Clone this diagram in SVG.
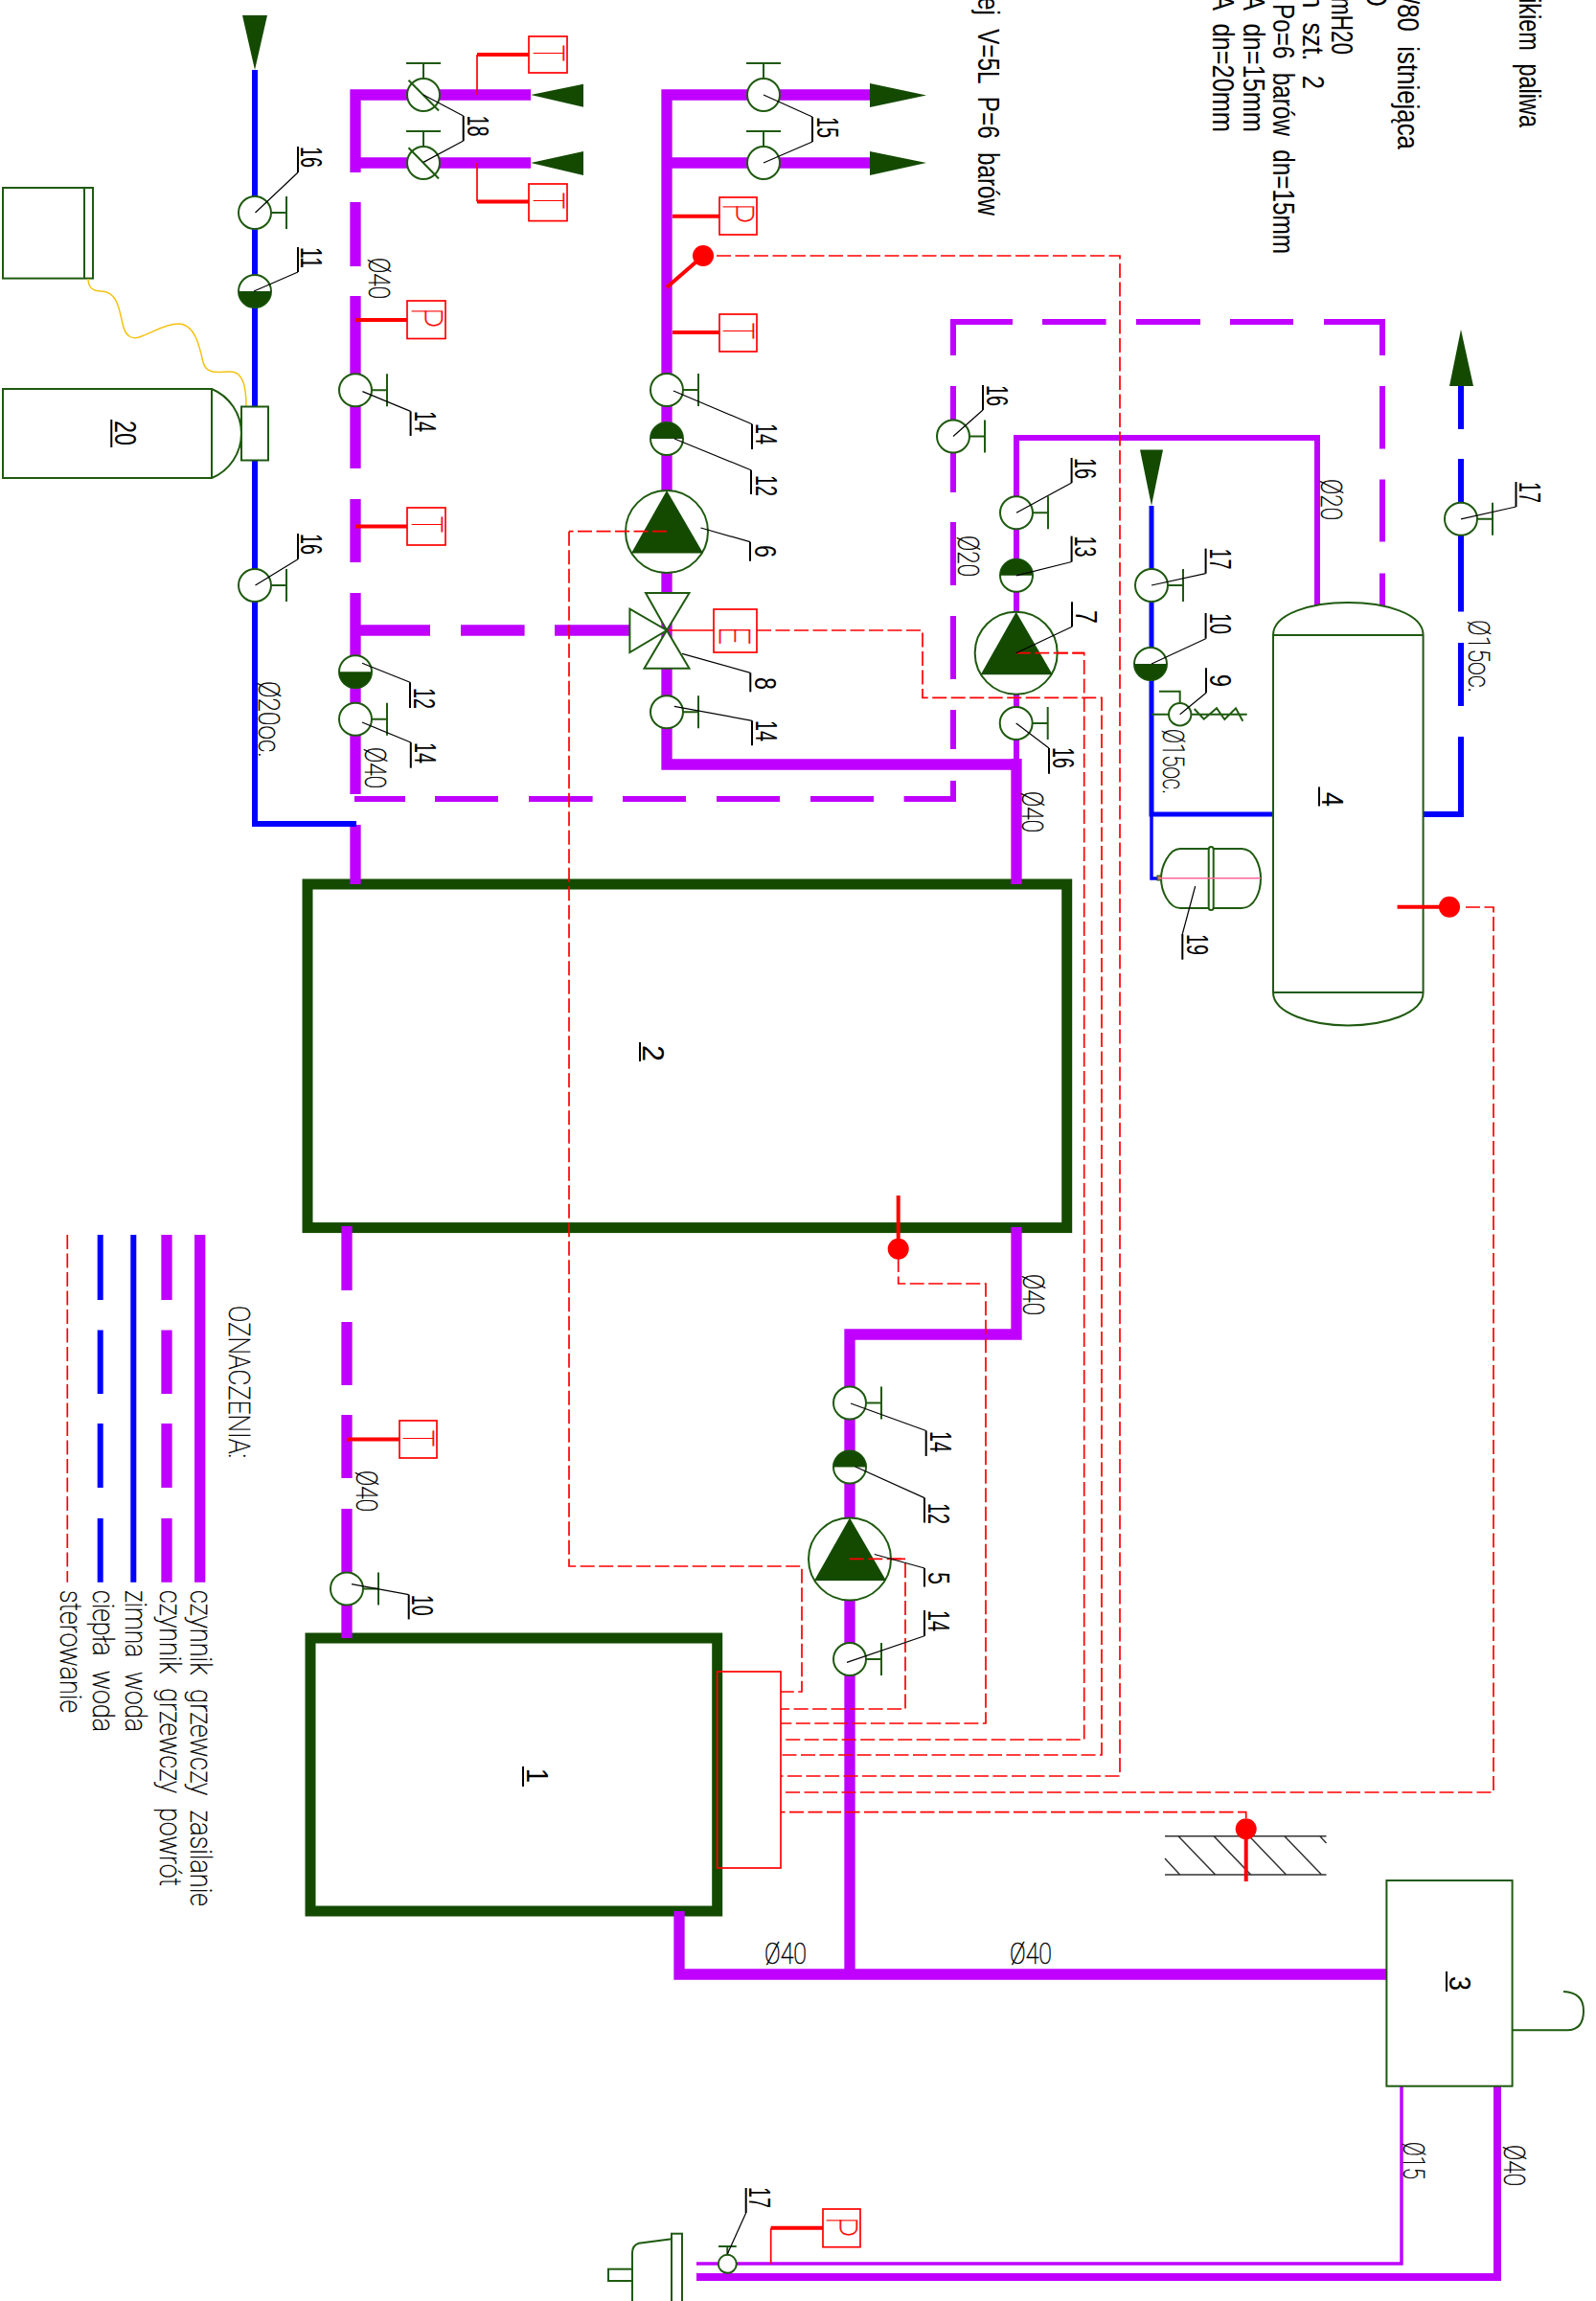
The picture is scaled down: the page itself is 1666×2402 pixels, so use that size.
<svg xmlns="http://www.w3.org/2000/svg" width="1666" height="2402" viewBox="0 0 1666 2402">
<style>
text{font-family:"Liberation Sans",Arial,sans-serif}
.n{font-size:32px;fill:#000;word-spacing:10px}
.l{font-family:"Roboto","Liberation Sans",sans-serif;font-size:31px;font-weight:100;fill:#000;stroke:#000;stroke-width:.55;word-spacing:10px}
.s{font-family:"Roboto","Liberation Sans",sans-serif;font-size:44px;font-weight:100;fill:#f00;stroke:#f00;stroke-width:.5}
.g{fill:#fff;stroke:#1f5a10;stroke-width:2}
.gn{fill:none;stroke:#1f5a10;stroke-width:2}
.f{fill:#144a00;stroke:none}
.fr{fill:none;stroke:#144a00;stroke-width:11}
.ld{fill:none;stroke:#000;stroke-width:1.2}
.ul{fill:none;stroke:#000;stroke-width:2}
.pt{fill:none;stroke:#bf00ff;stroke-width:11.3}
.pm{fill:none;stroke:#bf00ff;stroke-width:6}
.bl{fill:none;stroke:#00f;stroke-width:6}
.rd{fill:none;stroke:#f00;stroke-width:1.7;stroke-dasharray:15 4.5}
.rs{fill:none;stroke:#f00;stroke-width:4}
.rt{fill:none;stroke:#f00;stroke-width:1.7}
.bx{fill:#fff;stroke:#f00;stroke-width:1.7}
.ball{fill:#f00}
.ha{fill:none;stroke:#333;stroke-width:1.5}
</style>
<defs>
<g id="vr"><path class="gn" d="M17 0H33M33 -17V17"/><circle class="g" r="17"/></g>
<g id="vu"><path class="gn" d="M0 -17V-33M-18 -33H18"/><circle class="g" r="17"/></g>
<g id="vb"><circle class="g" r="17"/><path class="f" d="M-17 0A17 17 0 0 0 17 0Z"/></g>
<g id="vt"><circle class="g" r="17"/><path class="f" d="M-17 0A17 17 0 0 1 17 0Z"/></g>
<g id="pu"><circle class="g" r="43"/><path class="f" d="M0 -43L38 22.500H-37Z"/></g>
</defs>

<g id="frame-2"><rect class="fr" x="321" y="923" width="792.700" height="358.600"/><text class="n" transform="translate(671,1091) rotate(90)" textLength="17" lengthAdjust="spacingAndGlyphs">2</text><path class="ul" d="M668 1088V1108"/></g>
<g id="frame-1"><rect class="fr" x="324" y="1710" width="424.700" height="285"/><text class="n" transform="translate(550,1846) rotate(90)" textLength="15" lengthAdjust="spacingAndGlyphs">1</text><path class="ul" d="M546 1844V1865"/></g>

<g id="connectors">
<path class="pt" d="M365.500 99H554M371 93.500V180M371 170H554M371 211V278M371 309V489M371 521V587M371 619V829M371 861V923M371 658H449M481 658H547.600M579 658H657"/>
<path class="pt" d="M690.500 99H908M696 93.500V803.500M696 170H908M690.500 798H1066M1061 792V923"/>
<path class="pt" d="M362 1280V1347M362 1380V1446M362 1477V1543M362 1575V1710"/>
<path class="pt" d="M1061 1281V1393H887V2061M709 1995V2061H1447"/>
<path class="pm" d="M370 834H423M454 834H520M552 834H618.600M650 834H716M748 834H814M846 834H912M943.600 834H998M995 837V815M995 782V741M995 709V643M995 611V545M995 514V403M995 371V333M992 336H1057M1088 336H1154.600M1186 336H1253M1284 336H1350M1382 336H1446M1443 333V371M1443 403V468.500M1443 500.600V565.600M1443 598.600V633"/>
<path class="pm" d="M1061 792V457H1375V632"/>
<path class="pm" style="stroke-width:3.500" d="M1463 2177V2363H727"/>
<path class="pm" style="stroke-width:8" d="M1563 2177V2377H727"/>
<path class="bl" d="M266 73V860H372"/>
<path class="bl" d="M1525 403V448M1525 479V638.500M1525 671V737M1525 769V850H1485"/>
<path class="bl" style="stroke-width:5" d="M1202 528V850H1329"/>
<path class="bl" style="stroke-width:3.500" d="M1202 850V917H1209"/>
<path class="rd" d="M748 267H1169V1854H815"/>
<path class="rd" d="M594 554.700V1635H837V1766H815"/>
<path class="rd" d="M790 658H963V728.300H1150V1832H815"/>
<path class="rd" d="M1100 681.700H1131.700V1816H815"/>
<path class="rd" d="M1530 947H1559V1871H815"/>
<path class="rd" d="M1300.700 1898V1891.700H815"/>
<path class="rd" d="M937.700 1313V1340H1029V1799H815"/>
<path class="rd" d="M930 1627.400H945V1784H815"/>
<path class="rs" d="M702 225.700H751M702 347H751M696 300L734 267"/>
<path class="rs" d="M552 57H498M552 210.600H498M371 334H425M371 549.400H425M362 1502.400H417M804.700 2325.700H859"/>
<path class="rt" d="M498 57V99M498 210.600V170M804.700 2325.700V2363M696 658H745"/>
</g>

<g id="arrow-a"><path class="f" d="M253 16H279L266 73Z"/></g>
<g id="arrow-b"><path class="f" d="M554 99L609 87.700V111.800Z"/></g>
<g id="arrow-c"><path class="f" d="M554 170L609 158V183Z"/></g>
<g id="arrow-d"><path class="f" d="M908 87L967 99.500L908 112Z"/></g>
<g id="arrow-e"><path class="f" d="M908 158L967 170L908 183Z"/></g>
<g id="arrow-f"><path class="f" d="M1525 344L1538 403H1513Z"/></g>
<g id="arrow-g"><path class="f" d="M1190 469.400H1214L1202 528Z"/></g>

<g id="box-top"><rect class="gn" x="3" y="196" width="94" height="94.600"/><path class="gn" d="M88 196V290.600"/></g>
<path id="hose" fill="none" stroke="#f5c211" stroke-width="1.500" d="M92 291C92 303 100 304 106 304C122 305 124 320 128 338C131 352 138 354 145 352C160 347 172 338 186 338C203 338 208 360 212 378C215 390 225 389 240 388C254 387 257 405 257 424"/>
<g id="node-20"><path class="g" d="M3 406H221A50.400 50.400 0 0 1 221 499H3Z"/><path class="gn" d="M221 406V499"/><rect class="g" x="252" y="424.500" width="28" height="56"/><text class="n" transform="translate(120,439) rotate(90)" textLength="26" lengthAdjust="spacingAndGlyphs">20</text><path class="ul" d="M116.300 438V467"/></g>

<g id="v16a"><use href="#vr" x="266" y="222"/><polyline class="ld" points="266.500,222 311,180"/><path class="ul" d="M311 180V153"/><text class="n" transform="translate(314,153) rotate(90)" textLength="22" lengthAdjust="spacingAndGlyphs">16</text></g>
<g id="v11"><use href="#vb" x="266" y="304"/><polyline class="ld" points="265,304 311,284"/><path class="ul" d="M311 284V258"/><text class="n" transform="translate(314,258) rotate(90)" textLength="22" lengthAdjust="spacingAndGlyphs">11</text></g>
<g id="v16b"><use href="#vr" x="266" y="611"/><polyline class="ld" points="266.500,611 311,583.700"/><path class="ul" d="M311 583.700V557"/><text class="n" transform="translate(314,557) rotate(90)" textLength="22" lengthAdjust="spacingAndGlyphs">16</text></g>

<g id="v18"><use href="#vu" x="442" y="99"/><use href="#vu" x="442" y="170"/><path class="gn" d="M426.500 83.700L458 115.500M426.500 154.300L458 186.500"/><polyline class="ld" points="442,99 483.700,121"/><polyline class="ld" points="483.700,147 442,169.400"/><path class="ul" d="M483.700 121V147"/><text class="n" transform="translate(488,120.500) rotate(90)" textLength="22" lengthAdjust="spacingAndGlyphs">18</text></g>
<g id="v15"><use href="#vu" x="797" y="99"/><use href="#vu" x="797" y="170"/><polyline class="ld" points="797,99 848,122"/><polyline class="ld" points="848,148 797,170"/><path class="ul" d="M848 122V148"/><text class="n" transform="translate(853,122) rotate(90)" textLength="22" lengthAdjust="spacingAndGlyphs">15</text></g>
<g id="v14a"><use href="#vr" x="371" y="407.300"/><polyline class="ld" points="378.400,408.600 428.600,429.400"/><path class="ul" d="M428.600 429.400V455"/><text class="n" transform="translate(433,429) rotate(90)" textLength="22" lengthAdjust="spacingAndGlyphs">14</text></g>
<g id="v12a"><use href="#vb" x="371" y="701.300"/><polyline class="ld" points="378,692.300 428,712.300"/><path class="ul" d="M428 712.300V739"/><text class="n" transform="translate(432,718) rotate(90)" textLength="22" lengthAdjust="spacingAndGlyphs">12</text></g>
<g id="v14b"><use href="#vr" x="371" y="750.700"/><polyline class="ld" points="378,754 428.800,775"/><path class="ul" d="M428.800 775V801.700"/><text class="n" transform="translate(433,775) rotate(90)" textLength="22" lengthAdjust="spacingAndGlyphs">14</text></g>
<g id="v14c"><use href="#vr" x="696" y="407"/><polyline class="ld" points="703,408 785,442.700"/><path class="ul" d="M785 442.700V469"/><text class="n" transform="translate(789,442) rotate(90)" textLength="22" lengthAdjust="spacingAndGlyphs">14</text></g>
<g id="v12b"><use href="#vt" x="696" y="458"/><polyline class="ld" points="704,458 784,490.700"/><path class="ul" d="M784 490.700V516"/><text class="n" transform="translate(789,496) rotate(90)" textLength="22" lengthAdjust="spacingAndGlyphs">12</text></g>
<g id="pump-6"><use href="#pu" x="696" y="555"/><path class="rd" d="M696 554.700H594"/><polyline class="ld" points="731.500,551 783,565.700"/><path class="ul" d="M783 565.700V585.700"/><text class="n" transform="translate(788,569) rotate(90)" textLength="13" lengthAdjust="spacingAndGlyphs">6</text></g>
<g id="valve-8"><path class="g" d="M657.400 635.700L696 658L657.400 681Z"/><path class="g" d="M674 619H719.500L696 658Z"/><path class="g" d="M696 658L719.500 697.700H672.500Z"/><polyline class="ld" points="712,682.300 783.300,702.300"/><path class="ul" d="M783.300 702.300V722.300"/><text class="n" transform="translate(788,707) rotate(90)" textLength="13" lengthAdjust="spacingAndGlyphs">8</text></g>
<g id="v14d"><use href="#vr" x="696" y="743.300"/><polyline class="ld" points="703.800,737.300 785,752.300"/><path class="ul" d="M785 752.300V778.300"/><text class="n" transform="translate(789,752) rotate(90)" textLength="22" lengthAdjust="spacingAndGlyphs">14</text></g>

<g id="v16c"><use href="#vr" x="995" y="455.500"/><polyline class="ld" points="995,455.500 1026,428"/><path class="ul" d="M1026 428V402"/><text class="n" transform="translate(1030,402) rotate(90)" textLength="22" lengthAdjust="spacingAndGlyphs">16</text></g>
<g id="v16d"><use href="#vr" x="1061" y="535.300"/><polyline class="ld" points="1061,535.300 1118.600,504"/><path class="ul" d="M1118.600 504V478"/><text class="n" transform="translate(1122,478) rotate(90)" textLength="22" lengthAdjust="spacingAndGlyphs">16</text></g>
<g id="v13"><use href="#vt" x="1061" y="600.800"/><polyline class="ld" points="1061,600.800 1118.600,586.500"/><path class="ul" d="M1118.600 586.500V559.600"/><text class="n" transform="translate(1122,559.600) rotate(90)" textLength="22" lengthAdjust="spacingAndGlyphs">13</text></g>
<g id="pump-7"><use href="#pu" x="1060.700" y="681.700"/><path class="rd" d="M1060.700 681.700H1131.700"/><polyline class="ld" points="1060.700,681.700 1119,654.300"/><path class="ul" d="M1119 654.300V628.300"/><text class="n" transform="translate(1123,637) rotate(90)" textLength="14" lengthAdjust="spacingAndGlyphs">7</text></g>
<g id="v16e"><use href="#vr" x="1060.700" y="755"/><polyline class="ld" points="1060.700,755 1095,781"/><path class="ul" d="M1095 781V807.700"/><text class="n" transform="translate(1099,780) rotate(90)" textLength="22" lengthAdjust="spacingAndGlyphs">16</text></g>

<g id="v17a"><use href="#vr" x="1202" y="611"/><polyline class="ld" points="1202,611 1258.600,598.600"/><path class="ul" d="M1258.600 598.600V572.600"/><text class="n" transform="translate(1263,572.600) rotate(90)" textLength="22" lengthAdjust="spacingAndGlyphs">17</text></g>
<g id="v10a"><use href="#vb" x="1201" y="693"/><polyline class="ld" points="1202,693 1258.600,666.700"/><path class="ul" d="M1258.600 666.700V640"/><text class="n" transform="translate(1263,640) rotate(90)" textLength="22" lengthAdjust="spacingAndGlyphs">10</text></g>
<g id="v9"><path class="gn" d="M1202 745.700H1301.700M1231.700 733.300V721.700H1210M1246.700 740L1256.700 750.700L1270 739.300L1278.300 751L1290 739.300L1297.300 752.700"/><circle class="g" cx="1231.700" cy="745.700" r="11.700"/><polyline class="ld" points="1231.700,745.700 1259,723.300"/><path class="ul" d="M1259 723.300V697.300"/><text class="n" transform="translate(1263,704) rotate(90)" textLength="13" lengthAdjust="spacingAndGlyphs">9</text></g>
<g id="vessel-19"><path class="g" d="M1232 886H1296C1310 886 1316 905 1316 917C1316 930 1310 948 1296 948H1232C1220 948 1212 930 1212 917C1212 905 1220 886 1232 886Z"/><rect class="g" x="1261.700" y="884" width="5" height="66" rx="2.500"/><rect x="1208" y="914" width="4" height="5" fill="#bf8040" stroke="#1f5a10"/><path fill="none" stroke="#ff6699" stroke-width="1.500" d="M1209 916.700H1316"/><polyline class="ld" points="1247.700,925 1234.300,975"/><path class="ul" d="M1234.300 975V1001.700"/><text class="n" transform="translate(1239,975) rotate(90)" textLength="22" lengthAdjust="spacingAndGlyphs">19</text></g>
<g id="tank-4"><path class="g" d="M1329 663C1329 640 1370 629 1407 629C1445 629 1485.600 640 1485.600 663V1036C1485.600 1058 1445 1070.400 1407 1070.400C1370 1070.400 1329 1058 1329 1036Z"/><path class="gn" d="M1329 663H1485.600M1329 1036H1485.600"/><text class="n" transform="translate(1380,827) rotate(90)" textLength="15" lengthAdjust="spacingAndGlyphs">4</text><path class="ul" d="M1377 821.500V841.500"/></g>
<g id="sensor-tank"><path class="rs" d="M1458.600 946.800H1513"/><circle class="ball" cx="1513" cy="946.800" r="11"/></g>
<g id="v17b"><use href="#vr" x="1525" y="541.800"/><polyline class="ld" points="1525,541.800 1582.500,529"/><path class="ul" d="M1582.500 529V503"/><text class="n" transform="translate(1586,503) rotate(90)" textLength="22" lengthAdjust="spacingAndGlyphs">17</text></g>

<g id="v14e"><use href="#vr" x="887" y="1464.500"/><polyline class="ld" points="888,1465 966.700,1493.500"/><path class="ul" d="M966.700 1493.500V1520"/><text class="n" transform="translate(971,1494) rotate(90)" textLength="22" lengthAdjust="spacingAndGlyphs">14</text></g>
<g id="v12c"><use href="#vt" x="887" y="1531.400"/><polyline class="ld" points="892.700,1531 965,1563.600"/><path class="ul" d="M965 1563.600V1589.500"/><text class="n" transform="translate(969,1569) rotate(90)" textLength="22" lengthAdjust="spacingAndGlyphs">12</text></g>
<g id="pump-5"><use href="#pu" x="887" y="1627.500"/><path class="rd" d="M886.700 1627.400H945"/><polyline class="ld" points="912.700,1622.500 965,1637"/><path class="ul" d="M965 1637V1656.400"/><text class="n" transform="translate(969,1641) rotate(90)" textLength="13" lengthAdjust="spacingAndGlyphs">5</text></g>
<g id="v14f"><use href="#vr" x="887" y="1732"/><polyline class="ld" points="884,1735.400 965,1707.800"/><path class="ul" d="M965 1707.800V1681"/><text class="n" transform="translate(969,1681) rotate(90)" textLength="22" lengthAdjust="spacingAndGlyphs">14</text></g>
<g id="v10b"><use href="#vr" x="362" y="1658.400"/><polyline class="ld" points="367,1653.600 426.700,1664.700"/><path class="ul" d="M426.700 1664.700V1690.400"/><text class="n" transform="translate(430,1664.700) rotate(90)" textLength="22" lengthAdjust="spacingAndGlyphs">10</text></g>

<g id="controller"><rect class="rt" x="748.700" y="1745" width="66.300" height="205"/></g>
<g id="sensor-frame"><path class="rs" d="M937.700 1248V1303"/><circle class="ball" cx="937.700" cy="1303.700" r="11"/></g>
<g id="sensor-wall"><path class="ha" d="M1216 1916.700H1384.500M1216 1957H1384.500M1230 1916.700L1268.700 1957M1267 1916.700L1305.700 1957M1304 1916.700L1342.600 1957M1340.800 1916.700L1379.600 1957M1377.800 1916.700L1384.500 1924M1216 1940L1231.700 1957"/><path class="rs" d="M1300.700 1909V1964"/><circle class="ball" cx="1300.700" cy="1909.300" r="11"/></g>
<g id="sensor-pipe"><circle class="ball" cx="734" cy="267" r="11"/></g>

<g id="tank-3"><rect class="g" x="1447.400" y="1963" width="131.200" height="214.700"/><path class="gn" d="M1578.600 2119.300H1636Q1653 2119 1653 2099Q1653 2080 1632 2079"/><text class="n" transform="translate(1513,2063) rotate(90)" textLength="15" lengthAdjust="spacingAndGlyphs">3</text><path class="ul" d="M1510 2058V2079"/></g>
<g id="v17c"><path class="gn" d="M759.300 2354V2345M750 2345H768.700"/><circle class="g" cx="759.300" cy="2363.300" r="9.500"/><polyline class="ld" points="759.300,2353 778.700,2310"/><path class="ul" d="M778.700 2310V2284"/><text class="n" transform="translate(782,2283) rotate(90)" textLength="22" lengthAdjust="spacingAndGlyphs">17</text></g>
<g id="burner"><path class="gn" d="M701 2337.300L666.700 2341.700Q660 2344 660 2352V2402"/><rect class="g" x="701" y="2331.700" width="11" height="72"/><rect class="g" x="635" y="2368.700" width="25" height="12.300"/></g>

<g id="s-t1"><rect class="bx" x="552" y="38" width="40" height="38"/><text class="s" transform="translate(557,47) rotate(90)" textLength="17" lengthAdjust="spacingAndGlyphs">T</text></g>
<g id="s-t2"><rect class="bx" x="552" y="192" width="40" height="38.600"/><text class="s" transform="translate(557,201) rotate(90)" textLength="17" lengthAdjust="spacingAndGlyphs">T</text></g>
<g id="s-p1"><rect class="bx" x="425" y="314" width="40" height="39.500"/><text class="s" transform="translate(430,321) rotate(90)" textLength="21" lengthAdjust="spacingAndGlyphs">P</text></g>
<g id="s-t3"><rect class="bx" x="425" y="530" width="40" height="39"/><text class="s" transform="translate(430,539) rotate(90)" textLength="17" lengthAdjust="spacingAndGlyphs">T</text></g>
<g id="s-p2"><rect class="bx" x="751" y="206" width="39" height="39"/><text class="s" transform="translate(755,212) rotate(90)" textLength="21" lengthAdjust="spacingAndGlyphs">P</text></g>
<g id="s-t4"><rect class="bx" x="751" y="328" width="39" height="39"/><text class="s" transform="translate(755,337) rotate(90)" textLength="17" lengthAdjust="spacingAndGlyphs">T</text></g>
<g id="s-e"><rect class="bx" x="745" y="636" width="45" height="45"/><text class="s" transform="translate(751,654) rotate(90)" textLength="19" lengthAdjust="spacingAndGlyphs">E</text></g>
<g id="s-t5"><rect class="bx" x="417" y="1483" width="39" height="39"/><text class="s" transform="translate(421,1493) rotate(90)" textLength="17" lengthAdjust="spacingAndGlyphs">T</text></g>
<g id="s-p3"><rect class="bx" x="859" y="2306" width="39" height="39.700"/><text class="s" transform="translate(863,2314) rotate(90)" textLength="21" lengthAdjust="spacingAndGlyphs">P</text></g>

<g id="pipe-labels">
<text class="l" transform="translate(385,269) rotate(90)" textLength="43" lengthAdjust="spacingAndGlyphs">Ø40</text>
<text class="l" transform="translate(381,780) rotate(90)" textLength="43" lengthAdjust="spacingAndGlyphs">Ø40</text>
<text class="l" transform="translate(1000,559) rotate(90)" textLength="43" lengthAdjust="spacingAndGlyphs">Ø20</text>
<text class="l" transform="translate(1379,500) rotate(90)" textLength="43" lengthAdjust="spacingAndGlyphs">Ø20</text>
<text class="l" transform="translate(1533,647) rotate(90)" textLength="76" lengthAdjust="spacingAndGlyphs">Ø15oc.</text>
<text class="l" transform="translate(1214,761) rotate(90)" textLength="68" lengthAdjust="spacingAndGlyphs">Ø15oc.</text>
<text class="l" transform="translate(1067,826) rotate(90)" textLength="43" lengthAdjust="spacingAndGlyphs">Ø40</text>
<text class="l" transform="translate(1068,1330) rotate(90)" textLength="43" lengthAdjust="spacingAndGlyphs">Ø40</text>
<text class="l" transform="translate(270,711) rotate(90)" textLength="80" lengthAdjust="spacingAndGlyphs">Ø20oc.</text>
<text class="l" transform="translate(372,1535) rotate(90)" textLength="43" lengthAdjust="spacingAndGlyphs">Ø40</text>
<text class="l" transform="translate(1465,2236) rotate(90)" textLength="39" lengthAdjust="spacingAndGlyphs">Ø15</text>
<text class="l" transform="translate(1570,2239) rotate(90)" textLength="43" lengthAdjust="spacingAndGlyphs">Ø40</text>
<text class="l" x="798" y="2050" textLength="44" lengthAdjust="spacingAndGlyphs">Ø40</text>
<text class="l" x="1054" y="2050" textLength="44" lengthAdjust="spacingAndGlyphs">Ø40</text>
</g>

<g id="legend">
<path class="pt" d="M208.700 1289V1651.700"/>
<path class="pt" d="M174 1289V1357M174 1388.500V1455M174 1486V1553M174 1585V1651.700"/>
<path class="bl" d="M139.300 1289V1651.700"/>
<path class="bl" d="M104.700 1289V1357M104.700 1388.500V1455M104.700 1486V1553M104.700 1585V1651.700"/>
<path class="rd" d="M70.300 1289V1651.700"/>
<text class="l" transform="translate(239,1363) rotate(90)" textLength="159" lengthAdjust="spacingAndGlyphs">OZNACZENIA:</text>
<text class="l" transform="translate(199,1660) rotate(90)" textLength="330" lengthAdjust="spacingAndGlyphs">czynnik grzewczy zasilanie</text>
<text class="l" transform="translate(166.700,1660) rotate(90)" textLength="309" lengthAdjust="spacingAndGlyphs">czynnik grzewczy powrót</text>
<text class="l" transform="translate(131,1660) rotate(90)" textLength="148" lengthAdjust="spacingAndGlyphs">zimna woda</text>
<text class="l" transform="translate(96.700,1660) rotate(90)" textLength="148" lengthAdjust="spacingAndGlyphs">ciepła woda</text>
<text class="l" transform="translate(62.700,1660) rotate(90)" textLength="128" lengthAdjust="spacingAndGlyphs">sterowanie</text>
</g>

<g id="notes">
<text class="n" transform="translate(1021,-3) rotate(90)" textLength="228" lengthAdjust="spacingAndGlyphs">ej V=5L P=6 barów</text>
<text class="n" transform="translate(1266,-6) rotate(90)" textLength="144" lengthAdjust="spacingAndGlyphs">A dn=20mm</text>
<text class="n" transform="translate(1298,-6) rotate(90)" textLength="144" lengthAdjust="spacingAndGlyphs">A dn=15mm</text>
<text class="n" transform="translate(1329,4) rotate(90)" textLength="261" lengthAdjust="spacingAndGlyphs">Po=6 barów dn=15mm</text>
<text class="n" transform="translate(1359.500,-6) rotate(90)" textLength="99" lengthAdjust="spacingAndGlyphs">n szt. 2</text>
<text class="n" transform="translate(1390,-3) rotate(90)" textLength="60" lengthAdjust="spacingAndGlyphs">mH20</text>
<text class="n" transform="translate(1426,-14) rotate(90)" textLength="21" lengthAdjust="spacingAndGlyphs">O</text>
<text class="n" transform="translate(1459,-3) rotate(90)" textLength="159" lengthAdjust="spacingAndGlyphs">/80 istniejąca</text>
<text class="n" transform="translate(1586,-2) rotate(90)" textLength="135" lengthAdjust="spacingAndGlyphs">ikiem paliwa</text>
</g>
</svg>
